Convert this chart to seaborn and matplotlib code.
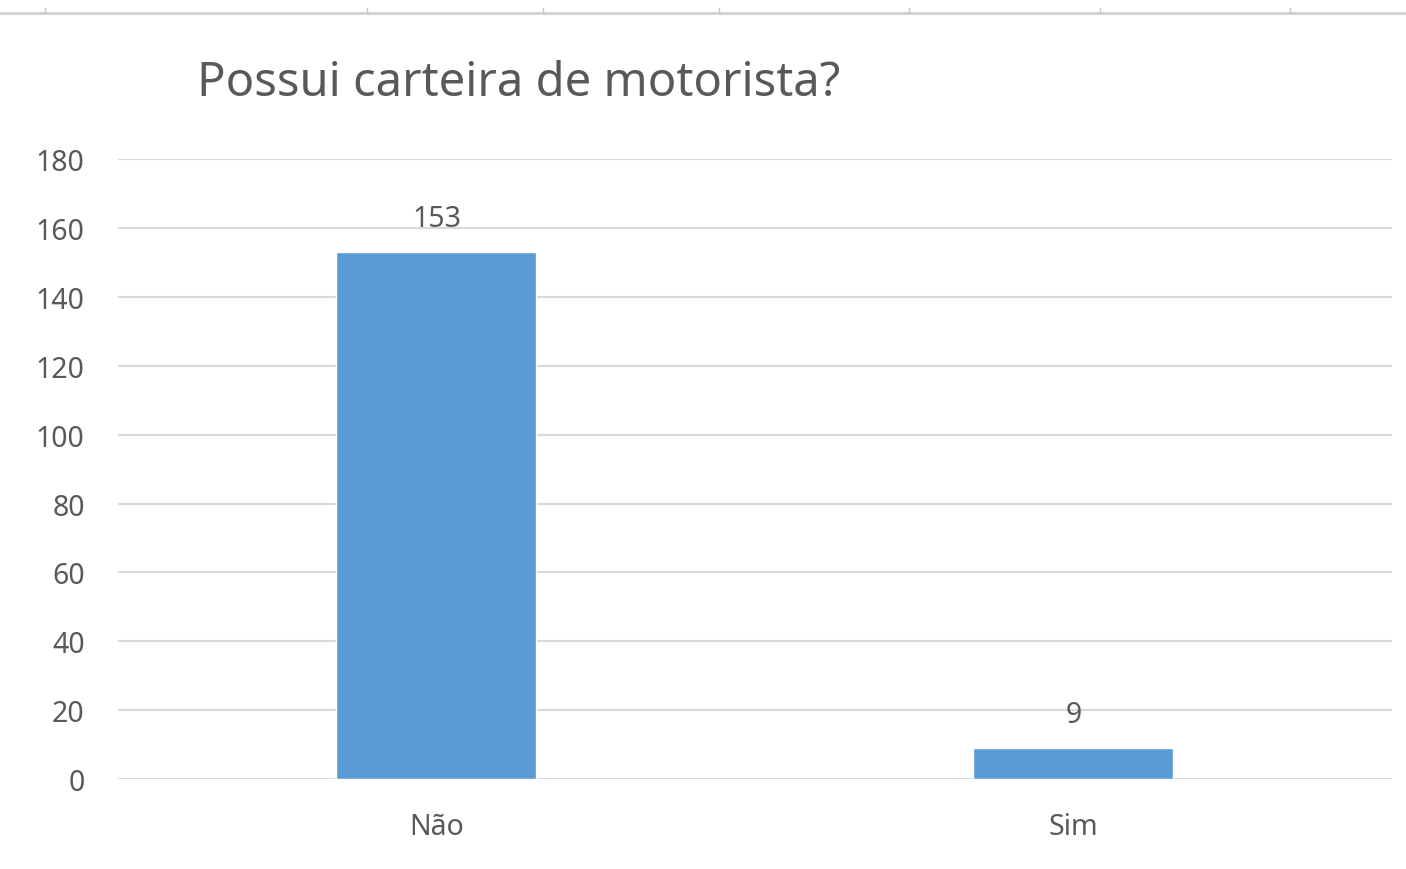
import matplotlib
matplotlib.use("Agg")
import matplotlib.pyplot as plt
import seaborn as sns
from matplotlib.lines import Line2D

# --- Dados ---
categorias = ["Não", "Sim"]
valores = [153, 9]
titulo = "Possui carteira de motorista?"

sns.set_style("white")
plt.rcParams["font.family"] = ["Noto Sans", "DejaVu Sans"]

cor_texto = "#595959"
cor_grade = "#D9D9D9"

fig = plt.figure(figsize=(14.06, 8.70), dpi=100)
ax = fig.add_axes([0.0839, 0.1034, 0.9061, 0.7126])

sns.barplot(x=categorias, y=valores, color="#5B9BD5", width=0.314,
            saturation=1, ax=ax, zorder=3)

ax.set_ylim(0, 180)
ax.set_xlim(-0.5, 1.5)
ax.set_yticks(range(0, 181, 20))
ax.grid(axis="y", color=cor_grade, linewidth=1.5, zorder=0)
ax.set_axisbelow(True)
for s in ax.spines.values():
    s.set_visible(False)
ax.tick_params(axis="both", length=0, labelsize=20.5, colors=cor_texto)
ax.tick_params(axis="y", pad=24)
ax.tick_params(axis="x", pad=24)
ax.set_xlabel("")
ax.set_ylabel("")

# rótulos de dados
for c in ax.containers:
    ax.bar_label(c, padding=14, fontsize=20.5, color=cor_texto)

fig.text(197 / 1406, 1 - 84 / 870, titulo, fontsize=34, color=cor_texto,
         ha="left", va="center")

# borda superior (resto da planilha)
fig.add_artist(Line2D([0, 1], [1 - 14 / 870] * 2, color="#D0D0D0", linewidth=2))
for xp in [45, 367, 543, 719, 909, 1100, 1290]:
    fig.add_artist(Line2D([xp / 1406] * 2, [1 - 14 / 870, 1 - 9 / 870],
                          color="#C8C8C8", linewidth=1))

fig.savefig("out.png", dpi=100)
